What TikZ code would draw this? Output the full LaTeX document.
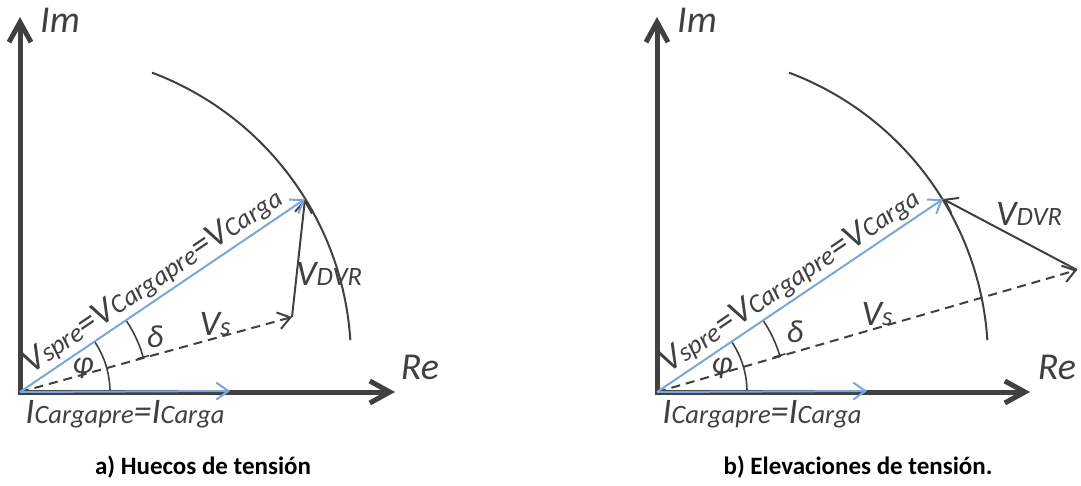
\documentclass[tikz,border=0pt]{standalone}
\usepackage{fontspec}
\setmainfont{Carlito}
\usetikzlibrary{arrows.meta, calc}

\definecolor{ink}{HTML}{404040}
\definecolor{phblue}{HTML}{7BA6DB}

% big letter + small index on the same baseline
\newcommand{\phz}[2]{{\fontsize{36}{36}\selectfont #1}{\fontsize{26.5}{26.5}\selectfont #2}}

\begin{document}
\begin{tikzpicture}[x=1pt, y=1pt,
        axis/.style={line width=5pt, draw=ink, line join=miter,
            {Straight Barb[length=20pt, width=22pt]}-{Straight Barb[length=20pt, width=22pt]}},
        phasor/.style={line width=2pt, draw=ink, -{Straight Barb[length=12pt, width=17pt]}},
        bphasor/.style={phasor, draw=phblue},
        dphasor/.style={phasor, dash pattern=on 9pt off 6pt},
        circ/.style={line width=2pt, draw=ink},
        anglearc/.style={line width=1.6pt, draw=ink},
        lbl/.style={text=ink, font=\itshape, inner sep=1pt},
        axlbl/.style={lbl, font=\itshape\fontsize{38}{38}\selectfont},
        greek/.style={lbl, font=\itshape\fontsize{32}{32}\selectfont},
        caption/.style={text=black, font=\bfseries\fontsize{25}{25}\selectfont}
    ]
    \useasboundingbox (0,0) rectangle (1081,485);

    % a) sag
    \begin{scope}[shift={(20,93)}]
        \coordinate (oa) at (0,0);
        \coordinate (ima) at (0,375);
        \coordinate (rea) at (375,0);
        \coordinate (va) at (285,193);
        \coordinate (vsa) at (272,75);
        \coordinate (ia) at (210,1);
        \coordinate (ca) at (24,32);

        \draw[axis] (ima) -- (oa) -- (rea);
        \node[axlbl] (tima) at (40,372) {Im};
        \node[axlbl] (trea) at (400,25) {Re};

        \draw[circ] (ca) ++(69.4:307) arc[start angle=69.4, end angle=3.7, radius=307];

        \draw[anglearc] (oa) ++(0:90) arc[start angle=0, end angle=34.1, radius=90];
        \draw[anglearc, -{Bar[width=12pt]}] (oa) ++(34.1:128) arc[start angle=34.1, end angle=15.4, radius=128];

        \draw[dphasor] (oa) -- (vsa);
        \draw[phasor] (vsa) -- (va);
        \draw[bphasor] (oa) -- (ia);
        \draw[bphasor] (oa) -- node[lbl, sloped, above=2pt] (tva)
            {\phz{V}{spre}\phz{=V}{Cargapre}\phz{=V}{Carga}} (va);

        \node[greek] (phia) at (63,24) {φ};
        \node[greek] (dela) at (135,55) {δ};
        \node[lbl] (tvsa) at (195,68) {\phz{V}{s}};
        \node[lbl] (tdvra) at (309,118) {\phz{V}{DVR}};
        \node[lbl] (tia) at (105,-22) {\phz{I}{Cargapre}\phz{=I}{Carga}};
    \end{scope}

    % b) swell
    \begin{scope}[shift={(657,93)}]
        \coordinate (ob) at (0,0);
        \coordinate (imb) at (0,375);
        \coordinate (reb) at (373,0);
        \coordinate (vb) at (286,193);
        \coordinate (vsb) at (420,122);
        \coordinate (ib) at (210,1);
        \coordinate (cb) at (24,32);

        \draw[axis] (imb) -- (ob) -- (reb);
        \node[axlbl] (timb) at (40,372) {Im};
        \node[axlbl] (treb) at (400,25) {Re};

        \draw[circ] (cb) ++(69.4:307) arc[start angle=69.4, end angle=3.7, radius=307];

        \draw[anglearc] (ob) ++(0:90) arc[start angle=0, end angle=34.0, radius=90];
        \draw[anglearc, -{Bar[width=12pt]}] (ob) ++(34.0:128) arc[start angle=34.0, end angle=16.2, radius=128];

        \draw[dphasor] (ob) -- (vsb);
        \draw[phasor] (vsb) -- (vb);
        \draw[bphasor] (ob) -- (ib);
        \draw[bphasor] (ob) -- node[lbl, sloped, above=2pt] (tvb)
            {\phz{V}{spre}\phz{=V}{Cargapre}\phz{=V}{Carga}} (vb);

        \node[greek] (phib) at (65,24) {φ};
        \node[greek] (delb) at (138,60) {δ};
        \node[lbl] (tvsb) at (220,78) {\phz{V}{s}};
        \node[lbl] (tdvrb) at (372,178) {\phz{V}{DVR}};
        \node[lbl] (tib) at (105,-22) {\phz{I}{Cargapre}\phz{=I}{Carga}};
    \end{scope}

    % captions
    \node[caption] (capa) at (203,18) {a) Huecos de tensión};
    \node[caption] (capb) at (858,18) {b) Elevaciones de tensión.};
\end{tikzpicture}
\end{document}
